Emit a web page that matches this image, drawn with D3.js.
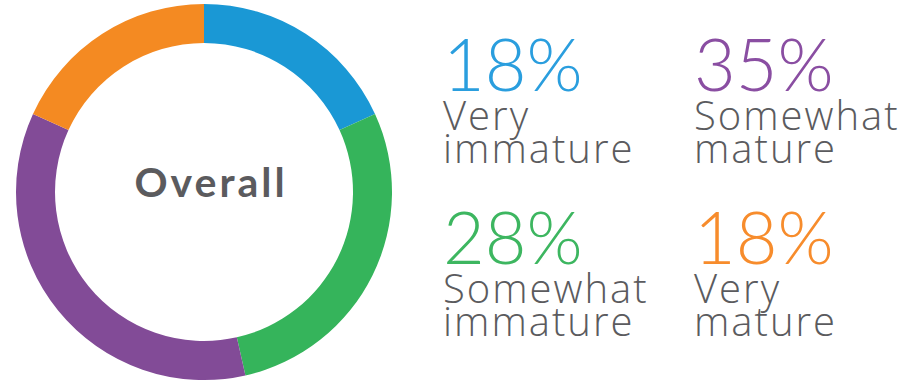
<!DOCTYPE html>
<html>
<head>
<meta charset="utf-8">
<script src="https://cdn.jsdelivr.net/npm/d3@7"></script>
<style>
  html, body { margin: 0; padding: 0; background: #fff; }
  svg { display: block; }
</style>
</head>
<body>
<svg id="chart" width="923" height="382"></svg>
<script>
// Maturity breakdown, overall
const categories = ["Very immature", "Somewhat immature", "Somewhat mature", "Very mature"];
const labelLines = [["Very", "immature"], ["Somewhat", "immature"], ["Somewhat", "mature"], ["Very", "mature"]];
const values = [18, 28, 35, 18];
const centerTitle = "Overall";

const ringColors = ["#1a98d5", "#35b45b", "#824b97", "#f48a22"];
const pctColors  = ["#2a9ede", "#3db660", "#8a4ea2", "#f78c2c"];
const textGray = "#5b5b5e";

const svg = d3.select("#chart");

// Donut
const cx = 204, cy = 192, outerR = 188, innerR = 149;
const pie = d3.pie().sort(null).value(d => d);
const arc = d3.arc().innerRadius(innerR).outerRadius(outerR);

const g = svg.append("g").attr("transform", `translate(${cx},${cy})`);
g.selectAll("path")
  .data(pie(values))
  .join("path")
  .attr("d", arc)
  .attr("fill", (d, i) => ringColors[i]);

g.append("text")
  .attr("x", 7)
  .attr("y", 5)
  .attr("text-anchor", "middle")
  .attr("font-family", "Lato, 'Open Sans', sans-serif")
  .attr("font-weight", 700)
  .attr("font-size", 41)
  .attr("letter-spacing", 3)
  .attr("fill", textGray)
  .text(centerTitle);

// Legend blocks: top row blue, purple; bottom row green, orange.
// Each block is one text element: the percentage, then the two label lines.
const gridOrder = [0, 2, 1, 3];
const colX = [443, 694];
const rowY = [91, 264];

gridOrder.forEach((idx, k) => {
  const x = colX[k % 2];
  const y = rowY[Math.floor(k / 2)];
  const block = svg.append("text")
    .attr("transform", `translate(${x},${y})`)
    .attr("fill", textGray);
  block.append("tspan")
    .attr("x", 0).attr("y", 0)
    .attr("font-family", "Lato, sans-serif")
    .attr("font-weight", 300)
    .attr("font-size", 72)
    .attr("fill", pctColors[idx])
    .text(values[idx] + "%");
  labelLines[idx].forEach((line, j) => {
    block.append("tspan")
      .attr("x", 0).attr("y", 39 + j * 33)
      .attr("font-family", "'Open Sans', sans-serif")
      .attr("font-weight", 300)
      .attr("font-size", 40)
      .attr("letter-spacing", 2)
      .text(line);
  });
});
</script>
</body>
</html>
